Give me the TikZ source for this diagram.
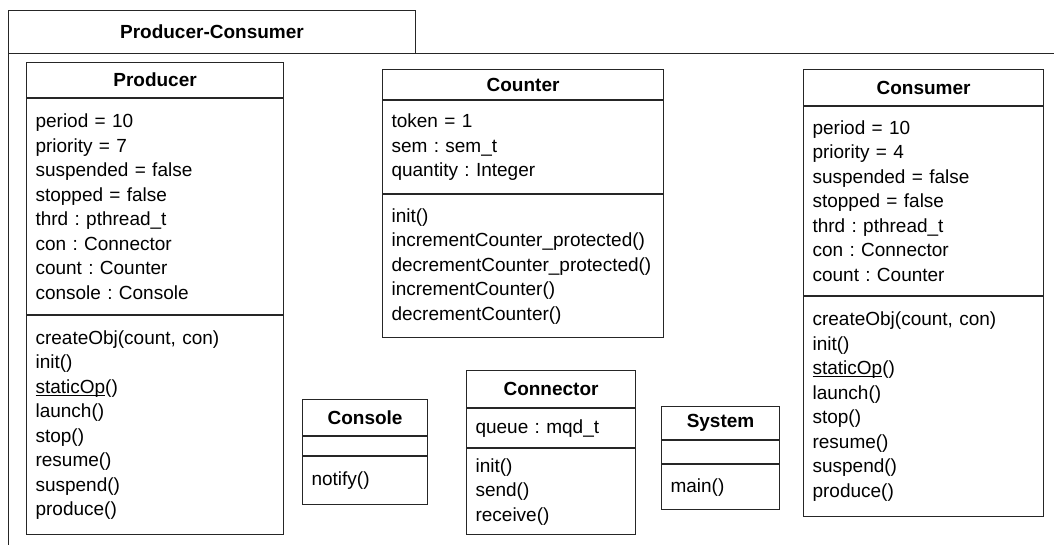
\documentclass[tikz,border=0pt]{standalone}
\usepackage{fontspec}
\setmainfont{Liberation Sans}
\newcommand\myul[1]{\underline{\smash{#1}}}
\begin{document}
\frenchspacing
\begin{tikzpicture}[x=1pt,y=-1pt,
  part/.style={draw=black!85, line width=1.1pt, anchor=north west, inner xsep=9pt, inner ysep=0pt,
    align=left, font=\frenchspacing\fontsize{19}{24.5}\selectfont},
  ttl/.style={part, align=center, font=\bfseries\fontsize{19}{24.5}\selectfont},
  pkg/.style={draw=black!85, line width=0.9pt}]
\clip (0,0) rectangle (1054,545);
% package frame
\node[pkg, anchor=north west, minimum width=407pt, minimum height=43pt, inner sep=0pt,
  font=\bfseries\fontsize{19}{22}\selectfont] (pkgTab) at (8,10) {Producer-Consumer};
\coordinate (pkgBR) at (1080,570);
\draw[pkg] (pkgBR |- pkgTab.south) -- (pkgTab.south west) -- (pkgTab.south west |- pkgBR);

% Producer
\node[ttl, text width=239pt, minimum height=35pt] (prodT) at (26,62) {Producer};
\node[part, text width=239pt, minimum height=216pt] (prodA) at (prodT.south west) {period = 10\\priority = 7\\suspended = false\\stopped = false\\thrd : pthread\_t\\con : Connector\\count : Counter\\console : Console};
\node[part, text width=239pt, minimum height=219pt] (prodM) at (prodA.south west) {createObj(count, con)\\init()\\\myul{staticOp}()\\launch()\\stop()\\resume()\\suspend()\\produce()};

% Counter
\node[ttl, text width=263pt, minimum height=30pt] (cntT) at (382,69) {Counter};
\node[part, text width=263pt, minimum height=93pt] (cntA) at (cntT.south west) {token = 1\\sem : sem\_t\\quantity : Integer};
\node[part, text width=263pt, minimum height=143pt] (cntM) at (cntA.south west) {init()\\incrementCounter\_protected()\\decrementCounter\_protected()\\incrementCounter()\\decrementCounter()};

% Consumer
\node[ttl, text width=222pt, minimum height=36pt] (conT) at (803,69) {Consumer};
\node[part, text width=222pt, minimum height=189pt] (conA) at (conT.south west) {period = 10\\priority = 4\\suspended = false\\stopped = false\\thrd : pthread\_t\\con : Connector\\count : Counter};
\node[part, text width=222pt, minimum height=220pt] (conM) at (conA.south west) {createObj(count, con)\\init()\\\myul{staticOp}()\\launch()\\stop()\\resume()\\suspend()\\produce()};

% Console
\node[ttl, text width=107pt, minimum height=36pt] (csT) at (302,399) {Console};
\node[part, text width=107pt, minimum height=19pt] (csA) at (csT.south west) {};
\node[part, text width=107pt, minimum height=48pt] (csM) at (csA.south west) {notify()};

% Connector
\node[ttl, text width=151pt, minimum height=37pt] (cnT) at (466,370) {Connector};
\node[part, text width=151pt, minimum height=39pt] (cnA) at (cnT.south west) {queue : mqd\_t};
\node[part, text width=151pt, minimum height=86pt] (cnM) at (cnA.south west) {init()\\send()\\receive()};

% System
\node[ttl, text width=100pt, minimum height=33pt] (sysT) at (661,406) {System};
\node[part, text width=100pt, minimum height=23pt] (sysA) at (sysT.south west) {};
\node[part, text width=100pt, minimum height=45pt] (sysM) at (sysA.south west) {main()};
\end{tikzpicture}
\end{document}
